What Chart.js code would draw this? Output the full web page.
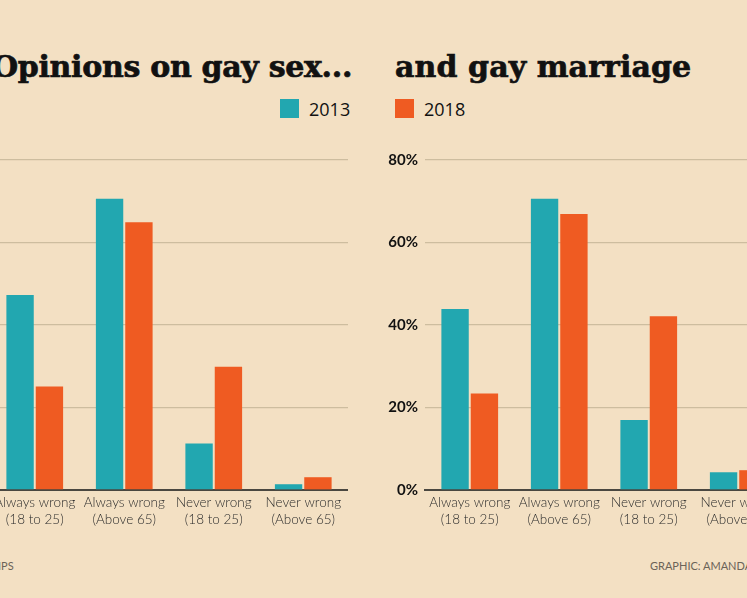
<!DOCTYPE html>
<html>
<head>
<meta charset="utf-8">
<script src="https://cdn.jsdelivr.net/npm/chart.js@4.4.1/dist/chart.umd.min.js"></script>
<style>
    html, body {
        margin: 0;
        padding: 0;
        width: 747px;
        height: 598px;
        overflow: hidden;
        background: #f3e0c3;
        position: relative;
        font-family: Lato, sans-serif;
    }
    .titulo {
        position: absolute;
        top: 52px;
        font-family: "DejaVu Serif", serif;
        font-weight: bold;
        font-size: 30px;
        line-height: 30px;
        letter-spacing: -0.3px;
        -webkit-text-stroke: 0.7px #111;
        color: #111;
        white-space: nowrap;
    }
    .grafico {
        position: absolute;
        top: 144px;
        width: 403px;
        height: 386px;
    }
    .legenda {
        position: absolute;
        top: 99px;
        height: 19px;
        display: flex;
        align-items: center;
        font-family: "Open Sans", sans-serif;
        font-size: 18px;
        color: #111;
    }
    .legenda span.quadrado {
        display: inline-block;
        width: 19px;
        height: 19px;
        margin-right: 10px;
    }
    .rodape {
        position: absolute;
        top: 559px;
        font-size: 11px;
        color: #6b6358;
        white-space: nowrap;
    }
</style>
</head>
<body>
<div class="titulo" style="left:-8px">Opinions on gay sex...</div>
<div class="titulo" style="left:395px; letter-spacing:0.1px">and gay marriage</div>
<div class="legenda" id="legenda2013" style="left:280px"></div>
<div class="legenda" id="legenda2018" style="left:395px"></div>
<div class="grafico" style="left:-55px"><canvas id="canvasSexo"></canvas></div>
<div class="grafico" style="left:380px"><canvas id="canvasCasamento"></canvas></div>
<div class="rodape" style="left:-2px">IPS</div>
<div class="rodape" style="left:650px">GRAPHIC: AMANDA B</div>
<script>
const CATEGORIAS = [
    ['Always wrong', '(18 to 25)'],
    ['Always wrong', '(Above 65)'],
    ['Never wrong', '(18 to 25)'],
    ['Never wrong', '(Above 65)']
];

const SERIES = ['2013', '2018'];

const SEXO_2013 = [47.3, 70.6, 11.3, 1.4];
const SEXO_2018 = [25.1, 64.9, 29.9, 3.1];

const CASAMENTO_2013 = [43.9, 70.6, 17.0, 4.3];
const CASAMENTO_2018 = [23.4, 66.9, 42.1, 4.8];

const Y_TICKS = [0, 20, 40, 60, 80];

const CORES = {
    teal: '#22a7b0',
    orange: '#ef5b22',
    grid: '#cdbd9f',
    axis: '#4a4740',
    text: '#2b2b2b'
};

const montarLegenda = (id, label, cor) => {
    let el = document.querySelector(id);
    el.innerHTML = '<span class="quadrado" style="background:' + cor + '"></span>' + label;
}

const grafico = (seletor, dados2013, dados2018) => {
    let ctx = document.querySelector(seletor);
    return new Chart(ctx, {
        type: 'bar',
        data: {
            labels: CATEGORIAS,
            datasets: [
                {
                    label: SERIES[0],
                    data: dados2013,
                    backgroundColor: CORES.teal
                },
                {
                    label: SERIES[1],
                    data: dados2018,
                    backgroundColor: CORES.orange
                }
            ]
        },
        options: {
            responsive: true,
            maintainAspectRatio: false,
            animation: false,
            categoryPercentage: 0.656,
            barPercentage: 0.932,
            layout: {
                padding: { top: 12, right: 0, bottom: 0, left: 0 }
            },
            plugins: {
                legend: { display: false },
                tooltip: { enabled: false }
            },
            scales: {
                x: {
                    grid: { display: false, drawTicks: false },
                    border: { display: true, color: CORES.axis, width: 2 },
                    ticks: {
                        color: CORES.text,
                        padding: 5,
                        maxRotation: 0,
                        autoSkip: false,
                        font: { family: 'Lato', size: 13.5, weight: 300, lineHeight: 1.2 }
                    },
                    afterFit: (axis) => { axis.height = 40; }
                },
                y: {
                    min: 0,
                    max: 80,
                    afterBuildTicks: (axis) => {
                        axis.ticks = Y_TICKS.map(v => ({ value: v }));
                    },
                    grid: { color: CORES.grid, lineWidth: 1.3, drawTicks: false },
                    border: { display: false },
                    ticks: {
                        color: '#111',
                        padding: 7,
                        font: { family: 'Lato', size: 15, weight: 'bold' },
                        callback: (v) => v + '%'
                    },
                    afterFit: (axis) => { axis.width = 45; }
                }
            }
        }
    });
}

montarLegenda('#legenda2013', SERIES[0], CORES.teal);
montarLegenda('#legenda2018', SERIES[1], CORES.orange);

try {
    grafico('#canvasSexo', SEXO_2013, SEXO_2018);
    grafico('#canvasCasamento', CASAMENTO_2013, CASAMENTO_2018);
}
catch (exception) {
    console.error('Erro ao montar o gráfico: ' + exception);
}
</script>
</body>
</html>
